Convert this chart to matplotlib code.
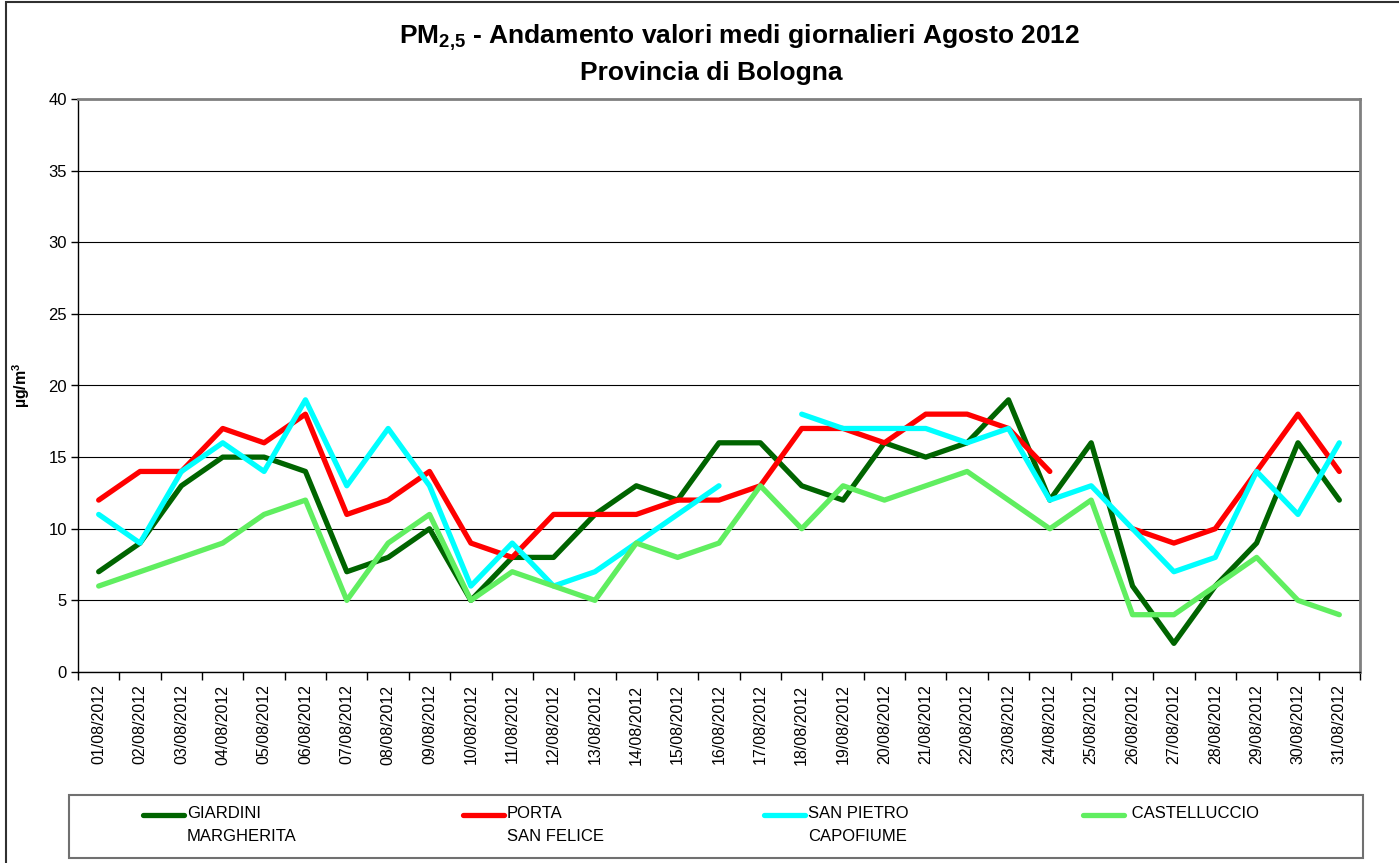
import matplotlib
matplotlib.use("Agg")
import matplotlib.pyplot as plt
from matplotlib.lines import Line2D
from matplotlib.patches import Rectangle
import numpy as np

plt.rcParams['font.family'] = ['Liberation Sans', 'DejaVu Sans']
plt.rcParams['mathtext.fontset'] = 'custom'
plt.rcParams['mathtext.rm'] = 'Liberation Sans'
plt.rcParams['mathtext.bf'] = 'Liberation Sans:bold'

nan = np.nan

# giorni di agosto 2012
giorni = [f"{d:02d}/08/2012" for d in range(1, 32)]

giardini = [7, 9, 13, 15, 15, 14, 7, 8, 10, 5, 8, 8, 11, 13, 12, 16,
            16, 13, 12, 16, 15, 16, 19, 12, 16, 6, 2, 6, 9, 16, 12]
porta = [12, 14, 14, 17, 16, 18, 11, 12, 14, 9, 8, 11, 11, 11, 12, 12,
         13, 17, 17, 16, 18, 18, 17, 14, nan, 10, 9, 10, 14, 18, 14]
san_pietro = [11, 9, 14, 16, 14, 19, 13, 17, 13, 6, 9, 6, 7, 9, 11, 13,
              nan, 18, 17, 17, 17, 16, 17, 12, 13, 10, 7, 8, 14, 11, 16]
castelluccio = [6, 7, 8, 9, 11, 12, 5, 9, 11, 5, 7, 6, 5, 9, 8, 9,
                13, 10, 13, 12, 13, 14, 12, 10, 12, 4, 4, 6, 8, 5, 4]

stazioni = ["GIARDINI\nMARGHERITA", "PORTA\nSAN FELICE",
            "SAN PIETRO\nCAPOFIUME", " CASTELLUCCIO"]
colori = ["#006400", "#FF0000", "#00FFFF", "#60EE60"]
serie = [giardini, porta, san_pietro, castelluccio]

W, H = 1399, 863
fig = plt.figure(figsize=(W / 100, H / 100), dpi=100)
ax = fig.add_axes([78 / W, 1 - 672 / H, (1360 - 78) / W, (672 - 99) / H])

x = np.arange(1, len(giorni) + 1)
for valori, col in zip(serie, colori):
    ax.plot(x, valori, color=col, lw=3.8, solid_capstyle='round', zorder=3)

ax.set_xlim(0.5, len(giorni) + 0.5)
ax.set_ylim(0, 40)
ax.set_yticks(range(0, 41, 5))
ax.yaxis.grid(True, color='black', lw=0.8)
ax.set_axisbelow(True)

ax.set_xticks(x)
ax.set_xticklabels(giorni, rotation=90, fontsize=11.5)
ax.tick_params(axis='x', which='major', length=0, pad=9)
ax.set_xticks(np.arange(0.5, len(giorni) + 1), minor=True)
ax.tick_params(axis='x', which='minor', length=6, width=1, direction='out')
ax.tick_params(axis='y', labelsize=12, length=5, width=1, pad=3)

for s in ['top', 'right']:
    ax.spines[s].set_color('#808080')
    ax.spines[s].set_linewidth(2)
for s in ['left', 'bottom']:
    ax.spines[s].set_linewidth(1)

ax.set_ylabel("µg/m$^{\\mathbf{3}}$", fontsize=11.5, fontweight='bold', labelpad=12)

fig.text(740 / W, 1 - 38 / H,
         r"PM$_{\mathbf{2{,}5}}$ - Andamento valori medi giornalieri Agosto 2012",
         ha='center', va='center', fontsize=19, fontweight='bold')
fig.text(711 / W, 1 - 73 / H, "Provincia di Bologna",
         ha='center', va='center', fontsize=19, fontweight='bold')

# cornice della figura
fig.patches.append(Rectangle((6 / W, -0.1), 1.2, 1.1 - 2 / H, transform=fig.transFigure,
                             fill=False, edgecolor='#303030', lw=1.5))

# legenda
fig.patches.append(Rectangle((69 / W, 1 - 858 / H), (1363 - 69) / W, (858 - 795) / H,
                             transform=fig.transFigure, fill=False,
                             edgecolor='#707070', lw=1.5))
hx = [143, 463, 764, 1083]
for px, nome, col in zip(hx, stazioni, colori):
    fig.lines.append(Line2D([px / W, (px + 41) / W], [1 - 815 / H, 1 - 815 / H],
                            transform=fig.transFigure, color=col, lw=3.8,
                            solid_capstyle='round'))
    fig.text((px + 44) / W, 1 - 806 / H, nome, ha='left', va='top',
             fontsize=12, linespacing=1.65)

fig.savefig("out.png", dpi=100)
